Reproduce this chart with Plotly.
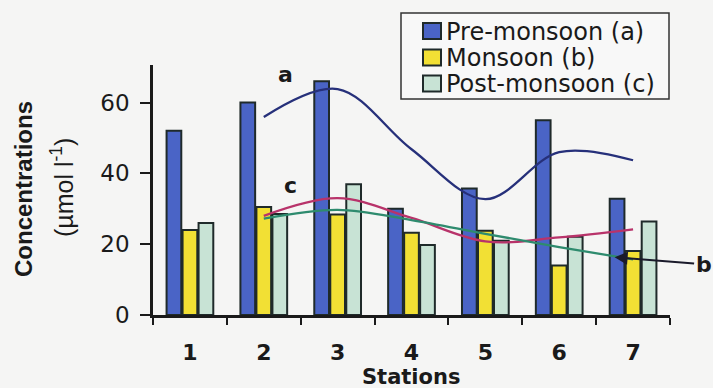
import plotly.graph_objects as go

stations = ['1', '2', '3', '4', '5', '6', '7']
pre_monsoon = [52, 60, 66, 30, 35.7, 55, 32.8]
monsoon = [24, 30.5, 28.4, 23.2, 23.8, 14, 18.1]
post_monsoon = [26, 28.5, 36.9, 19.8, 21, 22.1, 26.4]

trend_x = ['2', '3', '4', '5', '6', '7']
trend_a = [55.9, 63.8, 46.8, 32.7, 46, 43.7]
trend_b = [27.2, 29.7, 26.8, 22.9, 19.2, 15.7]
trend_c = [28, 33, 27.4, 20.8, 21.9, 24.2]

series_names = ['Pre-monsoon (a)', 'Monsoon (b)', 'Post-monsoon (c)']
bar_colors = ['#4a64c6', '#f2e034', '#c8e3d5']
outline = '#1f2a2a'
ink = '#1a1a1a'
bg = '#f5f5f4'

fig = go.Figure()
for name, vals, col in zip(series_names, [pre_monsoon, monsoon, post_monsoon], bar_colors):
    fig.add_trace(go.Bar(x=stations, y=vals, name=name, showlegend=False,
                         marker=dict(color=col, line=dict(color=outline, width=2))))

for vals, col in [(trend_a, '#26307a'), (trend_c, '#b8336a'), (trend_b, '#2e8b6e')]:
    fig.add_trace(go.Scatter(x=trend_x, y=vals, mode='lines', showlegend=False,
                             line=dict(color=col, width=2.3, shape='spline', smoothing=1.0)))

# plot area geometry (for paper-coordinate helpers)
L, R, T, B, W, H = 153, 43, 65, 73, 713, 388
pw, ph = W - L - R, H - T - B
def px(x):
    return (x - L) / pw
def py(y):
    return (H - B - y) / ph

shapes = [dict(type='rect', xref='paper', yref='paper', x0=px(401), x1=px(669), y0=py(99), y1=py(13),
               line=dict(color='#333333', width=1.5), fillcolor='rgba(250,250,250,0.6)', layer='above')]
annotations = []
rows = [31, 57.5, 83.5]
for name, col, yc in zip(series_names, bar_colors, rows):
    shapes.append(dict(type='rect', xref='paper', yref='paper', x0=px(423), x1=px(441),
                       y0=py(yc + 8), y1=py(yc - 8), fillcolor=col,
                       line=dict(color=outline, width=2), layer='above'))
    annotations.append(dict(xref='paper', yref='paper', x=px(444), y=py(yc + 1), text=name,
                            showarrow=False, xanchor='left', yanchor='middle',
                            font=dict(family='DejaVu Sans', size=24, color=ink)))

annotations += [
    dict(xref='paper', yref='paper', x=px(23), y=py(189), text='<b>Concentrations</b>', textangle=-90,
         showarrow=False, xanchor='center', yanchor='middle',
         font=dict(family='Liberation Sans', size=24, color=ink)),
    dict(xref='paper', yref='paper', x=px(62), y=py(188), text='(µmol l<sup>-1</sup>)', textangle=-90,
         showarrow=False, xanchor='center', yanchor='middle',
         font=dict(family='Liberation Sans', size=25, color=ink)),
    dict(xref='paper', yref='paper', x=px(411), y=py(377), text='<b>Stations</b>',
         showarrow=False, xanchor='center', yanchor='middle',
         font=dict(family='DejaVu Sans', size=21, color=ink)),
    dict(x=1.30, y=67.8, xref='x', yref='y', text='<b>a</b>', showarrow=False,
         font=dict(family='DejaVu Sans', size=22, color=ink)),
    dict(x=1.368, y=36.7, xref='x', yref='y', text='<b>c</b>', showarrow=False,
         font=dict(family='DejaVu Sans', size=22, color=ink)),
    dict(x=5.75, y=16.3, xref='x', yref='y', text='<b>b</b>', showarrow=True,
         ax=89, ay=7, arrowhead=2, arrowsize=1.3, arrowwidth=2, arrowcolor='#1a1a2a',
         font=dict(family='DejaVu Sans', size=22, color=ink)),
]

fig.update_layout(
    width=W, height=H, autosize=False,
    margin=dict(l=L, r=R, t=T, b=B),
    paper_bgcolor=bg, plot_bgcolor=bg,
    barmode='group', bargap=0.35, bargroupgap=0.08,
    shapes=shapes, annotations=annotations,
    xaxis=dict(type='category', range=[-0.5, 6.5], autorange=False, showgrid=False, showline=True,
               linecolor=ink, linewidth=2.5,
               ticks='outside', tickson='boundaries', ticklen=7, tickwidth=2, tickcolor=ink,
               tickfont=dict(family='DejaVu Sans', size=22, color=ink, weight='bold'),
               ticklabelstandoff=16, zeroline=False),
    yaxis=dict(range=[0, 70.6], autorange=False, showgrid=False, showline=True, linecolor=ink,
               linewidth=2.5,
               ticks='outside', ticklen=10, tickwidth=2, tickcolor=ink, tickvals=[0, 20, 40, 60],
               tickfont=dict(family='DejaVu Sans', size=23, color=ink),
               ticklabelstandoff=6, zeroline=False),
)

fig.write_html('out.html')
